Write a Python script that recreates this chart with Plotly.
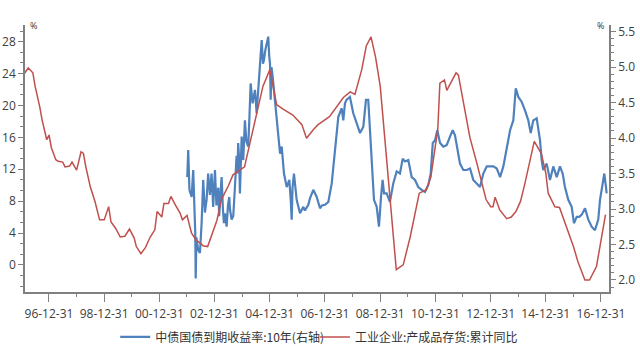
import plotly.graph_objects as go

# ---- Data: 工业企业:产成品存货:累计同比 (left axis, %) ----
inv_dates = [
    "1996-02", "1996-04", "1996-06", "1996-07", "1996-09", "1996-10", "1996-12",
    "1997-01", "1997-02", "1997-04", "1997-05", "1997-07", "1997-08", "1997-10", "1997-11",
    "1998-01", "1998-03", "1998-04", "1998-05", "1998-07", "1998-09", "1998-11",
    "1999-01", "1999-03", "1999-04", "1999-06", "1999-08", "1999-10", "1999-12",
    "2000-02", "2000-03", "2000-05", "2000-07", "2000-09", "2000-11", "2000-12",
    "2001-02", "2001-03", "2001-05", "2001-06", "2001-08", "2001-10", "2001-11",
    "2002-01", "2002-03", "2002-05", "2002-07", "2002-08", "2002-10", "2002-11",
    "2003-02", "2003-04", "2003-07", "2003-09", "2003-11",
    "2004-02", "2004-04", "2004-08", "2004-10", "2005-01", "2005-04", "2005-07", "2005-11",
    "2006-03", "2006-05", "2006-08", "2006-10", "2007-03", "2007-06", "2007-09", "2007-12",
    "2008-02", "2008-05", "2008-07", "2008-09", "2008-11", "2009-01", "2009-03", "2009-05",
    "2009-07", "2009-08", "2009-11", "2010-02", "2010-06", "2010-09", "2010-11",
    "2011-02", "2011-03", "2011-05", "2011-06", "2011-08", "2011-10", "2011-11",
    "2012-02", "2012-04", "2012-07", "2012-11", "2013-01", "2013-02", "2013-03", "2013-05",
    "2013-08", "2013-10", "2013-12", "2014-02", "2014-04", "2014-06", "2014-08", "2014-11",
    "2015-01", "2015-02", "2015-05", "2015-07", "2015-10", "2016-01", "2016-03", "2016-06",
    "2016-08", "2016-11", "2017-01", "2017-03",
]
inv_values = [
    23.9, 24.7, 24.1, 22.4, 19.8, 18.2, 15.7,
    16.3, 14.7, 13.2, 13.0, 12.9, 12.3, 12.4, 12.9,
    11.9, 14.2, 14.0, 12.4, 9.8, 7.95, 5.65,
    5.65, 7.3, 5.4, 4.6, 3.5, 3.6, 4.5,
    3.4, 2.3, 1.4, 2.2, 3.5, 4.4, 6.7,
    6.0, 7.7, 7.7, 8.6, 7.5, 6.5, 5.65,
    6.2, 4.0, 3.1, 2.7, 2.4, 2.3, 3.1,
    5.6, 8.2, 9.9, 11.3, 11.7,
    12.3, 14.8, 19.9, 22.4, 24.5, 20.1, 19.5, 18.8,
    17.6, 15.9, 17.0, 17.6, 18.6, 19.8, 21.0, 21.7,
    21.4, 24.5, 27.5, 28.6, 26.0, 22.4, 16.2, 10.0,
    3.5, -0.6, 0.0, 3.5, 9.0, 9.4, 11.0,
    17.0, 22.8, 23.2, 21.9, 23.0, 24.1, 23.8,
    19.1, 16.0, 12.8, 8.2, 7.3, 7.3, 8.5, 6.9,
    5.8, 6.0, 6.7, 8.0, 10.3, 12.8, 15.5, 14.0,
    11.5, 9.0, 7.3, 7.2, 4.8, 2.3, 0.4, -1.9,
    -1.9, -0.2, 3.1, 6.3,
]

# ---- Data: 中债国债到期收益率:10年 (right axis, %) ----
bond_dates = [
    "2002-01-04", "2002-01-17", "2002-02-02", "2002-03-03", "2002-03-24", "2002-04-09",
    "2002-04-20", "2002-04-26", "2002-05-05", "2002-05-29", "2002-06-21", "2002-07-13",
    "2002-08-03", "2002-08-26", "2002-09-17", "2002-10-08", "2002-10-31", "2002-11-22",
    "2002-12-13", "2003-01-06", "2003-01-25", "2003-02-18", "2003-03-03", "2003-03-19",
    "2003-04-04", "2003-04-21", "2003-05-04", "2003-05-18", "2003-06-09", "2003-06-27",
    "2003-07-14", "2003-07-23", "2003-08-14", "2003-09-05", "2003-09-14", "2003-09-27",
    "2003-10-19", "2003-10-30", "2003-11-09", "2003-11-23", "2003-12-02", "2003-12-25",
    "2004-01-15", "2004-02-06", "2004-02-26", "2004-03-21", "2004-04-06", "2004-04-22",
    "2004-05-18", "2004-06-18", "2004-07-10", "2004-07-27", "2004-08-14", "2004-08-30",
    "2004-09-15", "2004-10-02", "2004-10-15", "2004-11-04", "2004-11-20", "2004-12-11",
    "2004-12-24", "2005-01-03", "2005-01-12", "2005-01-23", "2005-02-08", "2005-03-10",
    "2005-04-10", "2005-05-16", "2005-06-07", "2005-07-07", "2005-08-12", "2005-09-16",
    "2005-10-06", "2005-10-17", "2005-10-28", "2005-11-16", "2005-12-22", "2006-02-04",
    "2006-03-20", "2006-04-11", "2006-05-25", "2006-06-16", "2006-07-30", "2006-09-13",
    "2006-10-27", "2006-11-22", "2007-01-01", "2007-02-14", "2007-03-31", "2007-05-13",
    "2007-06-26", "2007-08-10", "2007-08-31", "2007-09-22", "2007-10-14", "2007-11-27",
    "2008-01-10", "2008-02-24", "2008-04-08", "2008-05-22", "2008-06-26", "2008-07-26",
    "2008-08-18", "2008-09-10", "2008-10-10", "2008-11-15", "2008-12-15", "2009-01-11",
    "2009-02-01", "2009-02-20", "2009-03-27", "2009-05-09", "2009-06-22", "2009-08-06",
    "2009-09-19", "2009-10-25", "2009-11-24", "2010-01-07", "2010-02-21", "2010-04-06",
    "2010-05-19", "2010-07-03", "2010-08-16", "2010-09-29", "2010-10-31", "2010-11-27",
    "2010-12-27", "2011-01-26", "2011-03-03", "2011-04-15", "2011-05-30", "2011-07-13",
    "2011-08-18", "2011-09-17", "2011-10-17", "2011-11-22", "2012-01-05", "2012-02-19",
    "2012-04-03", "2012-05-16", "2012-06-30", "2012-08-13", "2012-09-26", "2012-11-10",
    "2012-12-24", "2013-02-06", "2013-03-23", "2013-05-06", "2013-06-18", "2013-08-02",
    "2013-09-15", "2013-10-28", "2013-11-29", "2014-01-02", "2014-02-16", "2014-03-31",
    "2014-05-14", "2014-06-15", "2014-07-19", "2014-09-02", "2014-10-16", "2014-11-07",
    "2014-11-28", "2015-01-12", "2015-02-25", "2015-04-10", "2015-05-25", "2015-07-07",
    "2015-08-12", "2015-09-11", "2015-10-25", "2015-12-09", "2016-01-08", "2016-02-14",
    "2016-03-19", "2016-04-20", "2016-06-03", "2016-07-16", "2016-08-30", "2016-10-12",
    "2016-11-25", "2016-12-18", "2017-01-23", "2017-02-13", "2017-03-07", "2017-03-16",
]
bond_values = [
    3.45, 3.83, 3.27, 3.17, 3.55, 3.03,
    2.66, 2.02, 2.60, 2.42, 2.38, 2.80,
    3.41, 2.95, 3.13, 3.50, 3.20, 3.50,
    3.03, 3.55, 3.05, 3.30, 2.90, 3.20,
    3.45, 3.00, 2.80, 2.94, 2.75, 3.05,
    3.17, 3.00, 2.85, 2.90, 3.03, 3.31,
    3.75, 3.50, 3.93, 3.69, 3.22, 4.02,
    3.69, 4.25, 3.95, 3.88, 4.30, 4.77,
    4.49, 4.68, 4.35, 4.60, 4.86, 5.00,
    5.38, 5.05, 5.10, 5.25, 5.33, 5.43,
    5.15, 5.05, 4.54, 5.00, 4.86, 4.49,
    4.11, 3.78, 3.88, 3.50, 3.31, 3.41,
    3.10, 2.85, 3.30, 3.50, 3.13, 2.94,
    3.03, 2.98, 3.06, 3.15, 3.27, 3.17,
    3.01, 3.05, 3.06, 3.10, 3.36, 3.78,
    4.30, 4.42, 4.25, 4.49, 4.54, 4.58,
    4.35, 4.21, 4.07, 4.16, 4.54, 4.54,
    4.11, 3.69, 3.13, 3.03, 2.75, 3.17,
    3.41, 3.22, 3.22, 3.10, 3.36, 3.53,
    3.50, 3.71, 3.67, 3.69, 3.45, 3.41,
    3.31, 3.27, 3.24, 3.34, 3.50, 3.93,
    3.97, 4.11, 3.93, 3.88, 3.90, 4.02,
    4.11, 4.04, 3.83, 3.64, 3.55, 3.55,
    3.57, 3.41, 3.36, 3.31, 3.50, 3.60,
    3.60, 3.60, 3.57, 3.45, 3.60, 3.88,
    4.11, 4.25, 4.70, 4.58, 4.51, 4.39,
    4.25, 4.07, 4.25, 4.28, 3.97, 3.69,
    3.55, 3.64, 3.41, 3.60, 3.45, 3.60,
    3.50, 3.31, 3.13, 3.03, 2.80, 2.89,
    2.89, 2.92, 3.01, 2.85, 2.75, 2.70,
    2.85, 3.13, 3.41, 3.50, 3.31, 3.22,
]

bond_name = "中债国债到期收益率:10年(右轴)"
inv_name = "工业企业:产成品存货:累计同比"

BLUE = "#4f81bd"
RED = "#c0504d"
AXIS = "#808080"
TXT = "#404040"

fig = go.Figure()
# blue on primary y (right side), red on overlaying y2 (left side) so red draws on top
fig.add_trace(go.Scatter(x=bond_dates, y=bond_values, name=bond_name, mode="lines",
                         line=dict(color=BLUE, width=2.2), yaxis="y", legend="legend"))
fig.add_trace(go.Scatter(x=inv_dates, y=inv_values, name=inv_name, mode="lines",
                         line=dict(color=RED, width=1.5), yaxis="y2", legend="legend2"))

tickfont = dict(family="Open Sans", size=12, color=TXT)
legfont = dict(family="Noto Sans CJK SC", size=12, color="#333333")

fig.update_layout(
    width=640, height=346,
    margin=dict(l=25, r=31, t=25, b=54),
    paper_bgcolor="white", plot_bgcolor="white",
    showlegend=True,
    legend=dict(orientation="h", xref="container", yref="container",
                x=0.18, y=0.068, xanchor="left", yanchor="top",
                font=legfont, itemwidth=30, bgcolor="rgba(0,0,0,0)"),
    legend2=dict(orientation="h", xref="container", yref="container",
                 x=0.492, y=0.068, xanchor="left", yanchor="top",
                 font=legfont, itemwidth=30, bgcolor="rgba(0,0,0,0)"),
    xaxis=dict(
        type="date", range=["1996-02-18", "2017-04-16"], automargin=False,
        tick0="1996-12-31", dtick="M24", tickformat="%y-%m-%d",
        ticks="outside", ticklen=8, tickcolor=AXIS, tickwidth=1,
        ticklabelstandoff=2,
        showline=True, linecolor=AXIS, linewidth=2, showgrid=False, zeroline=False,
        tickfont=tickfont,
        minor=dict(dtick="M12", tick0="1996-12-31", ticks="outside", ticklen=3,
                   tickcolor=AXIS, showgrid=False),
    ),
    yaxis=dict(
        side="right", range=[1.83, 5.594], tick0=2.0, dtick=0.5, tickformat=".1f",
        automargin=False,
        ticks="outside", ticklen=5, tickcolor=AXIS,
        showline=True, linecolor=AXIS, linewidth=1.5, showgrid=False, zeroline=False,
        tickfont=tickfont,
        minor=dict(dtick=0.1, ticks="outside", ticklen=3, tickcolor=AXIS, showgrid=False),
    ),
    yaxis2=dict(
        side="left", overlaying="y", range=[-3.4, 30.1], tick0=0, dtick=4,
        automargin=False,
        ticks="outside", ticklen=5, tickcolor=AXIS,
        showline=True, linecolor=AXIS, linewidth=1.5, showgrid=False, zeroline=False,
        tickfont=tickfont,
        minor=dict(dtick=4/3, tick0=0, ticks="outside", ticklen=3, tickcolor=AXIS, showgrid=False),
    ),
    annotations=[
        dict(text="%", xref="paper", yref="paper", x=0.005, y=1.0, xanchor="left",
             yanchor="middle", showarrow=False, font=dict(family="Open Sans", size=9, color="#333333")),
        dict(text="%", xref="paper", yref="paper", x=0.995, y=1.0, xanchor="right",
             yanchor="middle", showarrow=False, font=dict(family="Open Sans", size=9, color="#333333")),
    ],
)

fig.write_html("out.html")
